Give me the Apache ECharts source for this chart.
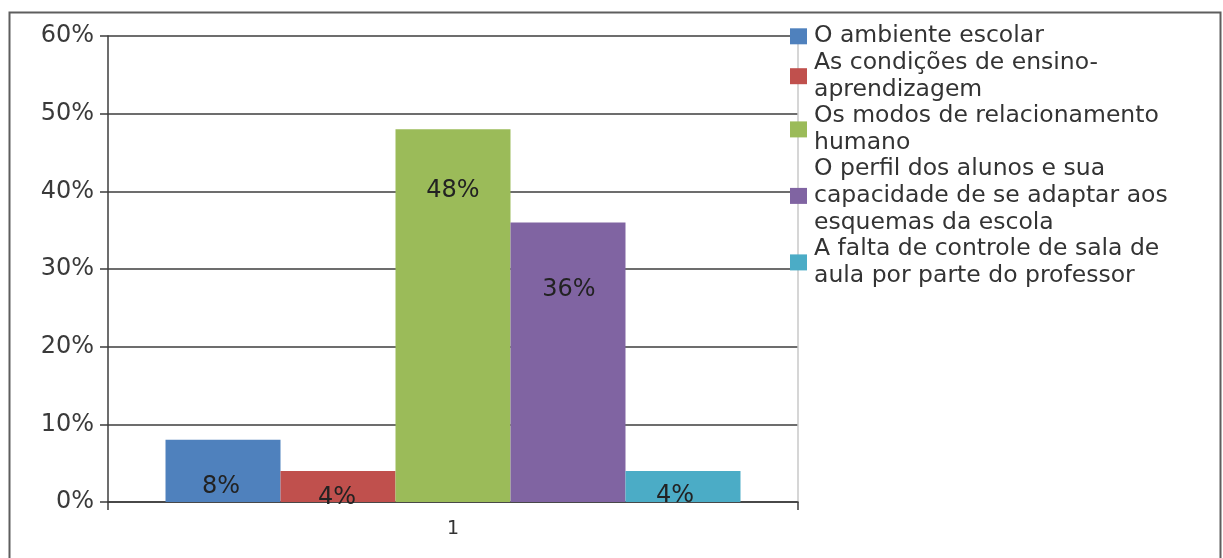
<!DOCTYPE html>
<html>
<head>
<meta charset="utf-8">
<script src="https://cdn.jsdelivr.net/npm/echarts@6/dist/echarts.min.js"></script>
<style>
  html, body { margin: 0; padding: 0; background: #fff; }
  #chart { width: 1223px; height: 558px; }
</style>
</head>
<body>
<div id="chart"></div>
<script>
// Category on the x axis (single group)
const categories = ['1'];

// Series names (legend entries, wrapped as displayed)
const seriesNames = [
  'O ambiente escolar',
  'As condições de ensino-\naprendizagem',
  'Os modos de relacionamento\nhumano',
  'O perfil dos alunos e sua\ncapacidade de se adaptar aos\nesquemas da escola',
  'A falta de controle de sala de\naula por parte do professor'
];

// Percentage for each series
const seriesValues = [8, 4, 48, 36, 4];

// Y axis range and step (percent)
const yMin = 0;
const yMax = 60;
const yStep = 10;

const palette = ['#4F81BD', '#C0504D', '#9BBB59', '#8064A2', '#4BACC6'];

// Where each value label sits relative to the centre of its bar
const labelShift = [[-2, 16], [-1, 11], [0, -125], [1, -72], [-8, 9]];

const font = 'DejaVu Sans';

const chart = echarts.init(document.getElementById('chart'));

const series = seriesNames.map((name, i) => ({
  name: name,
  type: 'bar',
  data: [seriesValues[i]],
  barGap: '0%',
  barCategoryGap: '16.67%',
  itemStyle: { color: palette[i] },
  label: {
    show: true,
    position: 'inside',
    offset: labelShift[i],
    formatter: '{c}%',
    fontFamily: font,
    fontSize: 24,
    color: '#222'
  }
}));

chart.setOption({
  animation: false,
  backgroundColor: '#fff',
  graphic: [{
    type: 'rect',
    shape: { x: 9.5, y: 12.5, width: 1211, height: 600 },
    style: { fill: 'none', stroke: '#5e5e5e', lineWidth: 2 },
    z: 100
  }],
  grid: { left: 108, right: 425, top: 36, bottom: 56 },
  legend: {
    orient: 'vertical',
    left: 790,
    top: 23,
    padding: 0,
    itemGap: 0,
    itemWidth: 17,
    itemHeight: 16,
    icon: 'rect',
    data: seriesNames,
    textStyle: {
      fontFamily: font,
      fontSize: 23.5,
      lineHeight: 26.6,
      color: '#333',
      padding: [0, 0, 0, 2]
    }
  },
  xAxis: {
    type: 'category',
    data: categories,
    axisLine: { lineStyle: { color: '#3c3c3c', width: 1.5 } },
    axisTick: { show: true, length: 8, lineStyle: { color: '#3c3c3c', width: 1.5 } },
    axisLabel: { fontFamily: font, fontSize: 19, color: '#333', margin: 18 }
  },
  yAxis: [{
    type: 'value',
    min: yMin,
    max: yMax,
    interval: yStep,
    axisLine: { show: true, lineStyle: { color: '#3c3c3c', width: 1.5 } },
    axisTick: { show: true, length: 8, lineStyle: { color: '#3c3c3c', width: 1.5 } },
    axisLabel: { formatter: '{value}%', fontFamily: font, fontSize: 24, color: '#3a3a3a', margin: 14 },
    splitLine: { lineStyle: { color: '#3c3c3c', width: 1.5 } }
  }, {
    type: 'value',
    position: 'right',
    min: yMin,
    max: yMax,
    interval: yStep,
    axisLine: { show: true, lineStyle: { color: '#c8c8c8', width: 1.5 } },
    axisTick: { show: false },
    axisLabel: { show: false },
    splitLine: { show: false }
  }],
  series: series
});
</script>
</body>
</html>
